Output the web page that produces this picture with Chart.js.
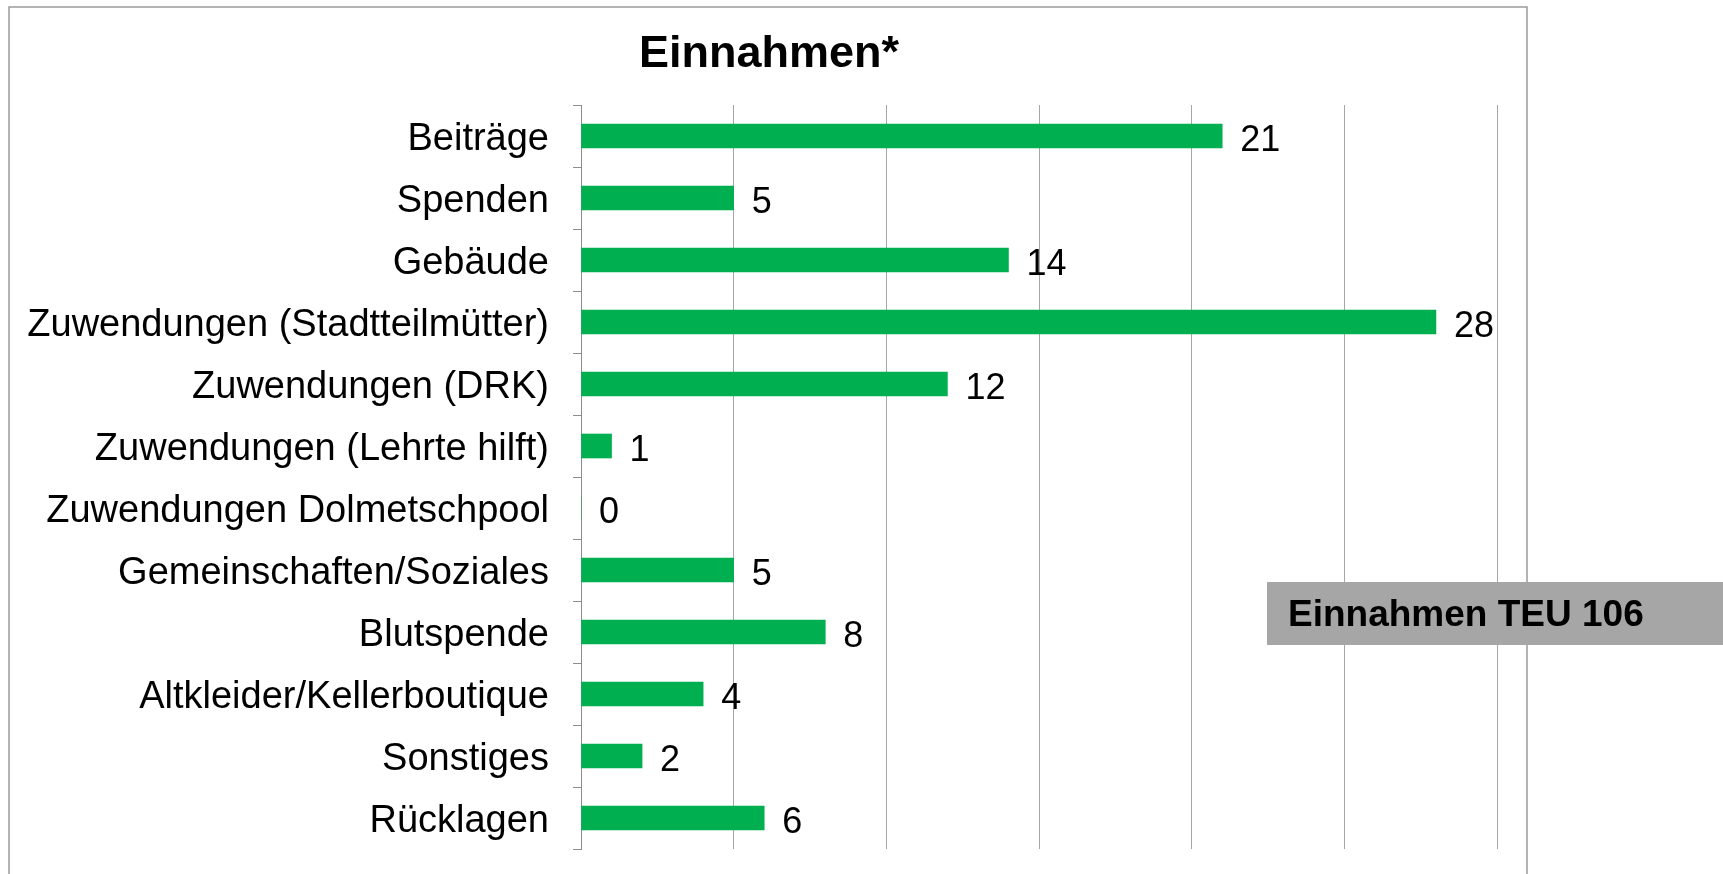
<!DOCTYPE html>
<html>
<head>
<meta charset="utf-8">
<script src="https://cdn.jsdelivr.net/npm/chart.js@4.4.1/dist/chart.umd.min.js"></script>
<style>
  html, body { margin: 0; padding: 0; background: #fff; }
  canvas { display: block; }
</style>
</head>
<body>
<canvas id="einnahmen" width="1723" height="874"></canvas>
<script>
// Werte in TEU
var kategorien = [
    'Beiträge', 'Spenden', 'Gebäude', 'Zuwendungen (Stadtteilmütter)', 'Zuwendungen (DRK)',
    'Zuwendungen (Lehrte hilft)', 'Zuwendungen Dolmetschpool', 'Gemeinschaften/Soziales',
    'Blutspende', 'Altkleider/Kellerboutique', 'Sonstiges', 'Rücklagen'
];
var werte = [21, 5, 14, 28, 12, 1, 0, 5, 8, 4, 2, 6];
var titel = 'Einnahmen*';
var summenText = 'Einnahmen TEU 106';

var schrift = "'Liberation Sans', Arial, sans-serif";

// Rahmen, Titel + grauer Kasten
var rahmenPlugin = {
    id: 'rahmen',
    beforeDraw: function (chart) {
        var c = chart.ctx;
        c.save();
        c.fillStyle = '#fff';
        c.fillRect(0, 0, chart.width, chart.height);
        c.strokeStyle = '#9a9a9a';
        c.lineWidth = 1.5;
        c.strokeRect(9, 7, 1518, 900);
        c.fillStyle = '#000';
        c.font = 'bold 45px ' + schrift;
        c.textAlign = 'center';
        c.textBaseline = 'middle';
        c.fillText(titel, 769, 55);
        c.restore();
    },
    afterDraw: function (chart) {
        var c = chart.ctx;
        c.save();
        c.fillStyle = '#a6a6a6';
        c.fillRect(1267, 582, 456, 63);
        c.fillStyle = '#000';
        c.font = 'bold 37px ' + schrift;
        c.textAlign = 'left';
        c.textBaseline = 'middle';
        c.fillText(summenText, 1288, 616);
        c.restore();
    }
};

// Werte neben den Balken
var wertePlugin = {
    id: 'werte',
    afterDatasetsDraw: function (chart) {
        var c = chart.ctx;
        var meta = chart.getDatasetMeta(0);
        c.save();
        c.fillStyle = '#000';
        c.font = '36px ' + schrift;
        c.textAlign = 'left';
        c.textBaseline = 'middle';
        meta.data.forEach(function (bar, i) {
            c.fillText(String(werte[i]), bar.x + 18, bar.y + 5);
        });
        c.restore();
    }
};

var ctx = document.getElementById('einnahmen').getContext('2d');
var grafik = new Chart(ctx, {
    type: 'bar',
    data: {
        labels: kategorien,
        datasets: [
            {
                data: werte,
                backgroundColor: '#00b050',
                borderWidth: 0,
                barThickness: 24
            }
        ]
    },
    options: {
        indexAxis: 'y',
        responsive: false,
        animation: false,
        layout: {
            padding: { left: 9, right: 226, top: 105, bottom: 25 }
        },
        plugins: {
            legend: { display: false },
            tooltip: { enabled: false },
            title: { display: false }
        },
        scales: {
            x: {
                position: 'bottom',
                min: 0,
                max: 30,
                ticks: { display: false, stepSize: 5 },
                grid: { color: '#a6a6a6', lineWidth: 1, drawTicks: false },
                border: { display: false },
                afterFit: function (scale) {
                    scale.height = 0;
                    scale.paddingLeft = 0;
                    scale.paddingRight = 0;
                }
            },
            y: {
                ticks: {
                    color: '#000',
                    padding: 24,
                    labelOffset: 4,
                    font: { family: schrift, size: 38 }
                },
                grid: { drawOnChartArea: false, color: '#8c8c8c', tickLength: 8, offset: true },
                border: { display: true, color: '#8c8c8c', width: 1 },
                afterFit: function (scale) {
                    scale.width = 572;
                    scale.paddingTop = 0;
                    scale.paddingBottom = 0;
                }
            }
        }
    },
    plugins: [rahmenPlugin, wertePlugin]
});
</script>
</body>
</html>
